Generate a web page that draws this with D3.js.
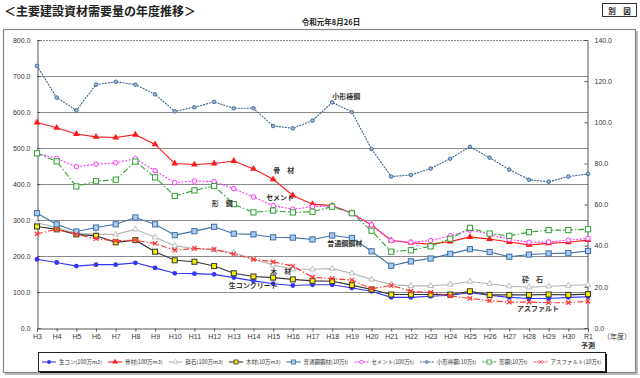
<!DOCTYPE html>
<html>
<head>
<meta charset="utf-8">
<script src="https://cdn.jsdelivr.net/npm/d3@7"></script>
<style>
  body { margin: 0; background: #fff; }
  svg text { font-family: "Liberation Sans", Arial, sans-serif; }
  .jp { font-family: "Noto Sans CJK JP", sans-serif; }
</style>
</head>
<body>
<div id="chart"></div>
<script>
// fiscal years (Heisei 3 .. Reiwa 1)
var years = ["H3","H4","H5","H6","H7","H8","H9","H10","H11","H12","H13","H14","H15","H16","H17",
             "H18","H19","H20","H21","H22","H23","H24","H25","H26","H27","H28","H29","H30","R1"];

// left axis series
var namacon  = [191,182,172,176,176,181,167,152,151,149,140,131,123,118,120,120,111,102,85,85,88,91,98,91,85,82,82,85,87];
var kotsuzai = [571,556,539,531,529,537,510,457,454,457,464,442,413,368,344,340,319,286,243,237,233,240,253,247,239,231,235,238,244];
var saiseki  = [292,279,263,260,260,274,252,228,221,217,209,191,175,163,163,165,152,135,121,117,117,121,129,123,116,113,116,118,120];
var mokuzai  = [282,274,260,256,238,244,212,188,184,172,152,143,140,135,131,130,119,107,93,93,93,93,102,92,92,92,93,92,94];
var futsuko  = [319,288,268,279,288,307,288,258,269,281,262,260,252,251,246,257,250,213,173,185,193,206,219,211,198,204,207,208,214];
var cement   = [485,471,448,455,459,470,437,404,408,407,387,364,340,330,337,339,319,286,243,238,243,256,272,261,246,238,239,244,249];

// right axis series
var kogata   = [127.4,112.0,105.8,118.3,119.7,118.3,113.6,105.3,107.3,109.9,106.8,106.8,98.2,97.1,100.8,109.7,105.0,87.0,73.6,74.4,77.5,82.3,88.1,82.8,77.0,72.1,71.1,73.6,74.9];
var katako   = [84.9,81.0,68.8,71.4,72.1,80.9,73.2,64.2,66.9,69.0,60.2,56.2,57.1,56.2,56.5,59.0,55.8,47.3,37.1,37.8,39.7,43.4,48.7,45.9,44.8,46.6,47.6,47.6,48.0];
var asphalt  = [45.7,48.0,45.5,43.4,42.4,42.7,41.1,37.8,38.7,38.2,35.9,33.4,32.2,30.1,24.7,24.0,23.3,19.1,20.7,17.9,17.3,15.6,14.4,13.3,12.6,12.6,12.3,12.3,13.0];

var leftTicks  = [0,100,200,300,400,500,600,700,800];
var rightTicks = [0,20,40,60,80,100,120,140];

var series = [
  { key: "namacon",  name: "生コン(100万m3)",   values: namacon,  axis: "L", color: "#3535f5", dash: null,        marker: "circleFill" },
  { key: "kotsuzai", name: "骨材(100万m3)",     values: kotsuzai, axis: "L", color: "#ff1a1a", dash: null,        marker: "triFill" },
  { key: "saiseki",  name: "砕石(100万m3)",     values: saiseki,  axis: "L", color: "#b4b4b4", dash: null,        marker: "triOpen" },
  { key: "mokuzai",  name: "木材(10万m3)",      values: mokuzai,  axis: "L", color: "#333333", dash: null,        marker: "squareYellow" },
  { key: "futsuko",  name: "普通鋼鋼材(10万t)", values: futsuko,  axis: "L", color: "#3f6ea6", dash: null,        marker: "squareBlue" },
  { key: "cement",   name: "セメント(100万t)",  values: cement,   axis: "L", color: "#ff33ff", dash: "2,1.5",     marker: "circleOpen" },
  { key: "kogata",   name: "小形棒鋼(10万t)",   values: kogata,   axis: "R", color: "#3b6394", dash: "2,1",       marker: "diamond" },
  { key: "katako",   name: "形鋼(10万t)",       values: katako,   axis: "R", color: "#30a030", dash: "6,2,1.5,2", marker: "squareOpen" },
  { key: "asphalt",  name: "アスファルト(10万t)", values: asphalt, axis: "R", color: "#ff3333", dash: "6,2,1.5,2", marker: "cross" }
];

var width = 640, height = 378;
var plot = { left: 37, right: 588, top: 40, bottom: 328 };

var svg = d3.select("#chart").append("svg")
    .attr("width", width)
    .attr("height", height);

// title
svg.append("text").attr("class", "jp")
    .attr("x", 4).attr("y", 16)
    .style("font-size", "12px").style("font-weight", "bold").attr("fill", "#222")
    .text("＜主要建設資材需要量の年度推移＞");

svg.append("text").attr("class", "jp")
    .attr("x", 331).attr("y", 25).attr("text-anchor", "middle")
    .style("font-size", "7.5px").style("font-weight", "bold").attr("fill", "#222")
    .text("令和元年8月26日");

svg.append("rect").attr("x", 602.5).attr("y", 3.5).attr("width", 34).attr("height", 13)
    .attr("fill", "#fff").attr("stroke", "#333").attr("stroke-width", 1);
svg.append("text").attr("class", "jp")
    .attr("x", 619.5).attr("y", 13.5).attr("text-anchor", "middle")
    .style("font-size", "7.5px").style("font-weight", "bold").attr("fill", "#222")
    .text("別　図");

// frame with shadow
svg.append("rect").attr("x", 5).attr("y", 31).attr("width", 633).attr("height", 344).attr("fill", "#bbb");
svg.append("rect").attr("x", 3.5).attr("y", 29.5).attr("width", 632).attr("height", 343)
    .attr("fill", "#fff").attr("stroke", "#888").attr("stroke-width", 1.2);

// scales
var x = d3.scalePoint().domain(years).range([plot.left, plot.right]);
var yL = d3.scaleLinear().domain([0, 800]).range([plot.bottom, plot.top]);
var yR = d3.scaleLinear().domain([0, 140]).range([plot.bottom, plot.top]);
function yOf(s) { return s.axis === "L" ? yL : yR; }

// gridlines
svg.append("g").selectAll("line")
    .data(leftTicks.filter(function(d) { return d > 0; }))
    .enter().append("line")
    .attr("x1", plot.left).attr("x2", plot.right)
    .attr("y1", function(d) { return Math.round(yL(d)) + 0.5; })
    .attr("y2", function(d) { return Math.round(yL(d)) + 0.5; })
    .attr("stroke", function(d) { return d === 800 ? "#888" : "#8a8a8a"; })
    .attr("stroke-dasharray", function(d) { return d === 800 ? "2,1" : null; })
    .attr("stroke-width", 1);

// axes
var axL = svg.append("g")
    .attr("transform", "translate(" + (plot.left + 0.5) + ",0)")
    .call(d3.axisLeft(yL).tickValues(leftTicks).tickFormat(d3.format(".1f")).tickSize(-3).tickPadding(7));
var axR = svg.append("g")
    .attr("transform", "translate(" + (plot.right - 0.5) + ",0)")
    .call(d3.axisRight(yR).tickValues(rightTicks).tickFormat(d3.format(".1f")).tickSize(-3).tickPadding(8));
var axB = svg.append("g")
    .attr("transform", "translate(0," + (plot.bottom + 0.5) + ")")
    .call(d3.axisBottom(x).tickSize(3).tickPadding(3));

[axL, axR, axB].forEach(function(a) {
    a.select(".domain").attr("stroke", "#555");
    a.selectAll(".tick line").attr("stroke", "#555");
    a.selectAll("text").style("font-size", "7px").attr("fill", "#333")
        .style("font-family", "'Liberation Sans', Arial, sans-serif");
});
axR.selectAll("text").attr("x", 7);

svg.append("text").attr("class", "jp")
    .attr("x", 603).attr("y", 339)
    .style("font-size", "7px").attr("fill", "#333").text("（年度）");
svg.append("text").attr("class", "jp")
    .attr("x", x("R1")).attr("y", 348).attr("text-anchor", "middle")
    .style("font-size", "7px").style("font-weight", "bold").attr("fill", "#333").text("予測");

// markers
function drawMarker(g, type, color) {
    switch (type) {
        case "circleFill":
            g.append("circle").attr("r", 2.4).attr("fill", color); break;
        case "circleOpen":
            g.append("circle").attr("r", 2.3).attr("fill", "#fff").attr("stroke", color).attr("stroke-width", 1); break;
        case "triFill":
            g.append("path").attr("d", d3.symbol(d3.symbolTriangle, 20)).attr("fill", color); break;
        case "triOpen":
            g.append("path").attr("d", d3.symbol(d3.symbolTriangle, 14)).attr("fill", "#fff").attr("stroke", color).attr("stroke-width", 0.9); break;
        case "squareYellow":
            g.append("rect").attr("x", -2.5).attr("y", -2.5).attr("width", 5).attr("height", 5)
                .attr("fill", "#f4f000").attr("stroke", "#333").attr("stroke-width", 1); break;
        case "squareBlue":
            g.append("rect").attr("x", -2.6).attr("y", -2.6).attr("width", 5.2).attr("height", 5.2)
                .attr("fill", "#a9cbef").attr("stroke", color).attr("stroke-width", 1); break;
        case "squareOpen":
            g.append("rect").attr("x", -2.6).attr("y", -2.6).attr("width", 5.2).attr("height", 5.2)
                .attr("fill", "#fff").attr("stroke", color).attr("stroke-width", 1); break;
        case "diamond":
            g.append("circle").attr("r", 1.8).attr("fill", "#9bb8dc").attr("stroke", color).attr("stroke-width", 0.9); break;
        case "cross":
            g.append("path").attr("d", "M-2.2,-2.2L2.2,2.2M-2.2,2.2L2.2,-2.2")
                .attr("stroke", color).attr("stroke-width", 1.2); break;
    }
}

// lines and points
series.forEach(function(s) {
    var ys = yOf(s);
    var line = d3.line()
        .x(function(d, i) { return x(years[i]); })
        .y(function(d) { return ys(d); });

    svg.append("path")
        .datum(s.values)
        .attr("fill", "none")
        .attr("stroke", s.color)
        .attr("stroke-width", 1.1)
        .attr("stroke-dasharray", s.dash)
        .attr("d", line);

    s.values.forEach(function(v, i) {
        var g = svg.append("g").attr("transform", "translate(" + x(years[i]) + "," + ys(v) + ")");
        drawMarker(g, s.marker, s.color);
    });
});

// labels on the plot (anchored to a point of the series)
var notes = [
    { text: "小形棒鋼",     key: "kogata",   year: "H18", dx: 0,   dy: -3 },
    { text: "骨　材",       key: "kotsuzai", year: "H15", dx: 0,   dy: -6 },
    { text: "セメント",     key: "cement",   year: "H15", dx: -7,  dy: -6 },
    { text: "形　鋼",       key: "katako",   year: "H13", dx: -22, dy: 2 },
    { text: "普通鋼鋼材",   key: "futsuko",  year: "H18", dx: -5,  dy: 11 },
    { text: "砕　石",       key: "saiseki",  year: "H28", dx: -7,  dy: -5 },
    { text: "木　材",       key: "mokuzai",  year: "H15", dx: -3,  dy: -4 },
    { text: "生コンクリート", key: "namacon", year: "H13", dx: -5,  dy: 10 },
    { text: "アスファルト", key: "asphalt",  year: "H28", dx: -12, dy: 9 }
];
notes.forEach(function(n) {
    var s = series.filter(function(d) { return d.key === n.key; })[0];
    var i = years.indexOf(n.year);
    svg.append("text").attr("class", "jp")
        .attr("x", x(n.year) + n.dx)
        .attr("y", yOf(s)(s.values[i]) + n.dy)
        .style("font-size", "7px").style("font-weight", "bold").attr("fill", "#333")
        .text(n.text);
});

// legend
var lg = { x: 38, y: 352, w: 567, h: 19 };
svg.append("rect").attr("x", lg.x + 2).attr("y", lg.y + 2).attr("width", lg.w).attr("height", lg.h).attr("fill", "#111");
svg.append("rect").attr("x", lg.x + 0.5).attr("y", lg.y + 0.5).attr("width", lg.w).attr("height", lg.h)
    .attr("fill", "#fff").attr("stroke", "#222").attr("stroke-width", 1);

var items = svg.append("g").selectAll("g").data(series).enter().append("g");
items.append("text").attr("class", "jp")
    .style("font-size", "5.5px").attr("fill", "#333")
    .attr("y", lg.y + lg.h / 2 + 2.5)
    .text(function(d) { return d.name; });

var sample = 14, gapA = 3;
var widths = [];
items.select("text").each(function() { widths.push(this.getComputedTextLength()); });
var used = d3.sum(widths) + series.length * (sample + gapA);
var gap = Math.max(2, (lg.w - 8 - used) / (series.length - 1));
var cx = lg.x + 4;
items.each(function(d, i) {
    var g = d3.select(this);
    var cy = lg.y + lg.h / 2 + 0.5;
    g.append("line").attr("x1", cx).attr("x2", cx + sample).attr("y1", cy).attr("y2", cy)
        .attr("stroke", d.color).attr("stroke-width", 1.1).attr("stroke-dasharray", d.dash ? "2,1" : null);
    var m = g.append("g").attr("transform", "translate(" + (cx + sample / 2) + "," + cy + ")scale(0.8)");
    drawMarker(m, d.marker, d.color);
    g.select("text").attr("x", cx + sample + gapA);
    cx += sample + gapA + widths[i] + gap;
});
</script>
</body>
</html>
